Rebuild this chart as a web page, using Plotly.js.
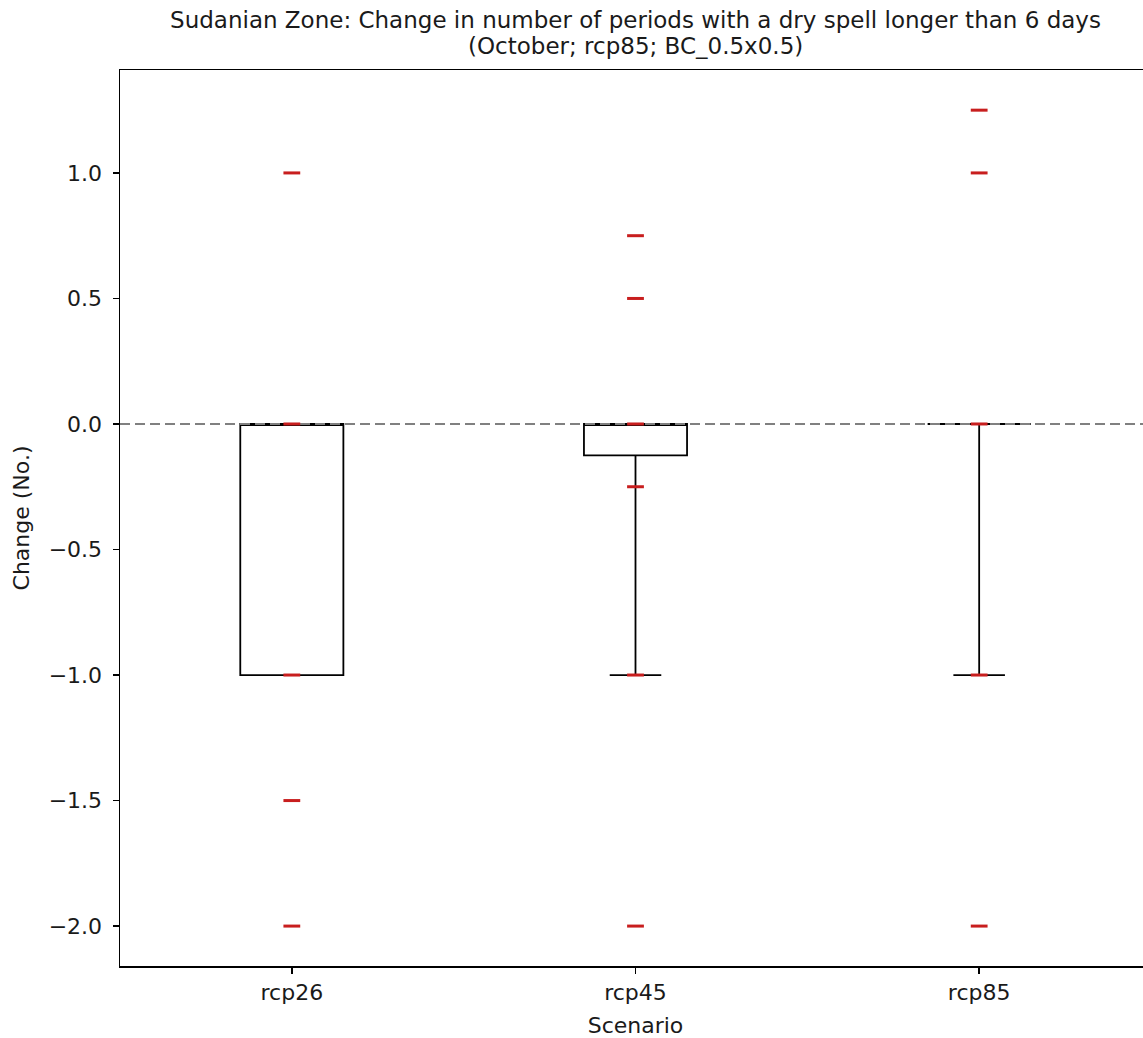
<!DOCTYPE html>
<html>
<head>
<meta charset="utf-8">
<script src="https://cdn.plot.ly/plotly-3.0.1.min.js"></script>
<style>
html, body { margin: 0; padding: 0; overflow: hidden; background: #fff; }
#chart { width: 1160px; height: 1038px; }
</style>
</head>
<body>
<div id="chart"></div>
<script>
// Data
const scenarios = ["rcp26", "rcp45", "rcp85"];
const positions = [0, 1, 2];
const q1 = [-1.0, -0.125, 0.0];
const median = [0.0, 0.0, 0.0];
const q3 = [0.0, 0.0, 0.0];
const lowerWhisker = [-1.0, -1.0, -1.0];
const upperWhisker = [0.0, 0.0, 0.0];
const memberValues = {
  rcp26: [1.0, 0.0, -1.0, -1.5, -2.0],
  rcp45: [0.75, 0.5, 0.0, -0.25, -1.0, -2.0],
  rcp85: [1.25, 1.0, 0.0, -1.0, -2.0]
};
const yTicks = [-2.0, -1.5, -1.0, -0.5, 0.0, 0.5, 1.0];
const titleLine1 = "Sudanian Zone: Change in number of periods with a dry spell longer than 6 days";
const titleLine2 = "(October; rcp85; BC_0.5x0.5)";

const FF = "DejaVu Sans, sans-serif";
const TXT = "#1a1a1a";

const boxTrace = {
  type: "box",
  x: positions,
  q1: q1,
  median: median,
  q3: q3,
  lowerfence: lowerWhisker,
  upperfence: upperWhisker,
  width: 0.3,
  whiskerwidth: 0.5,
  line: { color: "#000", width: 1.8 },
  fillcolor: "rgba(255,255,255,0)",
  boxpoints: false,
  showlegend: false,
  hoverinfo: "skip"
};

const zeroLine = {
  type: "scatter",
  mode: "lines",
  x: [-0.5, 2.5],
  y: [0, 0],
  line: { color: "rgba(128,128,128,1)", width: 2.2, dash: "10px,5px" },
  showlegend: false,
  hoverinfo: "skip"
};

const mx = [], my = [];
scenarios.forEach((s, i) => {
  memberValues[s].forEach(v => { mx.push(positions[i]); my.push(v); });
});

const markerTrace = {
  type: "scatter",
  mode: "markers",
  x: mx,
  y: my,
  marker: {
    symbol: "line-ew",
    size: 12,
    color: "#c81e1e",
    line: { color: "#c81e1e", width: 3 }
  },
  showlegend: false
};

const layout = {
  width: 1160,
  height: 1038,
  margin: { l: 120, r: 9, t: 70, b: 72 },
  paper_bgcolor: "#fff",
  plot_bgcolor: "#fff",
  font: { family: FF, size: 22, color: TXT },
  title: {
    text: titleLine1,
    font: { family: FF, size: 23, color: TXT },
    xref: "paper", x: 0.5, xanchor: "center",
    yref: "container", y: 1 - 20 / 1038, yanchor: "middle"
  },
  annotations: [{
    text: titleLine2,
    xref: "paper", x: 0.5, xanchor: "center",
    yref: "paper", y: (966 - 46) / 896, yanchor: "middle",
    showarrow: false,
    font: { family: FF, size: 23, color: TXT }
  }],
  xaxis: {
    range: [-0.5, 2.5],
    tickvals: positions,
    ticktext: scenarios,
    showgrid: false,
    zeroline: false,
    showline: true,
    mirror: true,
    linecolor: "#000",
    linewidth: 1.5,
    ticks: "outside",
    ticklen: 6,
    tickwidth: 1.5,
    tickcolor: "#000",
    tickfont: { family: FF, size: 22, color: TXT },
    title: { text: "Scenario", font: { family: FF, size: 22, color: TXT }, standoff: 13 }
  },
  yaxis: {
    range: [-2.159, 1.410],
    tickvals: yTicks,
    tickformat: ".1f",
    showgrid: false,
    zeroline: false,
    showline: true,
    mirror: true,
    linecolor: "#000",
    linewidth: 1.5,
    ticks: "outside",
    ticklen: 6,
    tickwidth: 1.5,
    tickcolor: "#000",
    ticklabelstandoff: 6,
    tickfont: { family: FF, size: 22, color: TXT },
    title: { text: "Change (No.)", font: { family: FF, size: 22, color: TXT }, standoff: 13 }
  }
};

Plotly.newPlot("chart", [boxTrace, zeroLine, markerTrace], layout, { displayModeBar: false, staticPlot: true });
</script>
</body>
</html>
